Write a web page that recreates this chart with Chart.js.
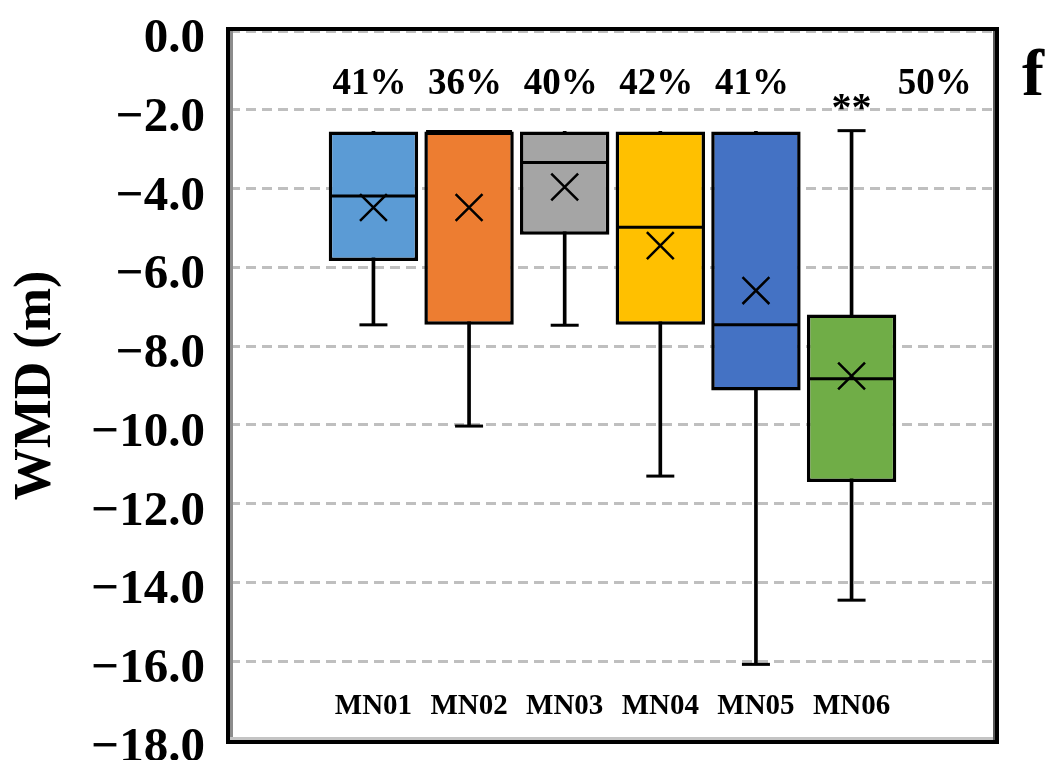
<!DOCTYPE html>
<html>
<head>
<meta charset="utf-8">
<script src="https://cdn.jsdelivr.net/npm/chart.js@4/dist/chart.umd.min.js"></script>
<style>
  html, body { margin: 0; padding: 0; background: #ffffff; }
  #wrap { width: 1048px; height: 760px; }
</style>
</head>
<body>
<div id="wrap"><canvas id="chart" width="1048" height="760"></canvas></div>
<script>
// Box-plot summary of WMD (m) per site
const categories  = ['MN01', 'MN02', 'MN03', 'MN04', 'MN05', 'MN06'];
const whiskerHigh = [-2.55, -2.55, -2.55, -2.55, -2.55, -2.53];
const q3          = [-2.55, -2.55, -2.55, -2.55, -2.55, -7.20];
const median      = [-4.19, -2.55, -3.34, -4.98, -7.46, -8.83];
const q1          = [-5.84, -7.46, -5.17, -7.46, -9.13, -11.45];
const whiskerLow  = [-7.46, -10.03, -7.47, -11.30, -16.08, -14.45];
const mean        = [-4.48, -4.48, -3.96, -5.45, -6.59, -8.76];
const shares      = ['41%', '36%', '40%', '42%', '41%', '50%'];
const signif      = ['', '', '', '', '', '**'];
const boxColors   = ['#5B9BD5', '#ED7D31', '#A5A5A5', '#FFC000', '#4472C4', '#70AD47'];
const yMin = -18, yMax = 0, yStep = 2;
const panelTag = 'f';
const yTitle = 'WMD (m)';

const SERIF = '"Liberation Serif", "Times New Roman", serif';

// one empty slot on each side of the six sites
const pad = arr => [null, ...arr, null];
const slotLabels = ['', ...categories, ''];

const boxData = pad(categories.map((_, i) => [q1[i], q3[i]]));
const whiskerData = pad(categories.map((_, i) => [whiskerLow[i], whiskerHigh[i]]));
// a cap is only drawn where the whisker actually leaves the box
const capSize = (ends, edges) => pad(ends.map((v, i) => (v === edges[i] ? 0 : 14)));

const fmtTick = v => (v < 0 ? '\u2212' : '') + Math.abs(v).toFixed(1);

const decorations = {
  id: 'decorations',
  beforeDraw(chart) {
    const ctx = chart.ctx;
    ctx.save();
    ctx.fillStyle = '#ffffff';
    ctx.fillRect(0, 0, chart.width, chart.height);
    ctx.restore();
  },
  afterDatasetsDraw(chart) {
    const ctx = chart.ctx;
    const x = chart.scales.x;
    const area = chart.chartArea;
    const slot = x.getPixelForValue(2) - x.getPixelForValue(1);
    ctx.save();
    ctx.fillStyle = '#000000';
    ctx.textAlign = 'center';
    ctx.textBaseline = 'alphabetic';
    categories.forEach((name, i) => {
      const cx = x.getPixelForValue(i + 1);
      // site name inside the plot, near the bottom
      ctx.font = 'bold 29px ' + SERIF;
      ctx.fillText(name, cx, area.bottom - 26);
      // share label on top; shifted right when a significance mark takes the slot
      ctx.font = 'bold 37px ' + SERIF;
      if (signif[i]) {
        ctx.fillText(shares[i], cx + slot * 0.87, 94);
        ctx.font = 'bold 40px ' + SERIF;
        ctx.fillText(signif[i], cx, 120);
      } else {
        ctx.fillText(shares[i], cx - 4, 94);
      }
    });
    ctx.restore();
  },
  afterDraw(chart) {
    const ctx = chart.ctx;
    const a = chart.chartArea;
    const y = chart.scales.y;
    ctx.save();
    // inner shading of the frame
    ctx.lineCap = 'butt';
    ctx.strokeStyle = '#8c8c8c';
    ctx.lineWidth = 3;
    ctx.beginPath(); ctx.moveTo(a.left + 1.5, a.top); ctx.lineTo(a.left + 1.5, a.bottom); ctx.stroke();
    ctx.strokeStyle = '#c4c4c4';
    ctx.beginPath(); ctx.moveTo(a.left, a.bottom - 1.5); ctx.lineTo(a.right, a.bottom - 1.5); ctx.stroke();
    ctx.strokeStyle = '#5a5a5a';
    ctx.lineWidth = 2;
    ctx.beginPath(); ctx.moveTo(a.right - 1, a.top); ctx.lineTo(a.right - 1, a.bottom); ctx.stroke();
    // outer black frame
    ctx.strokeStyle = '#000000';
    ctx.lineWidth = 4;
    ctx.strokeRect(a.left - 2, a.top - 2, a.right - a.left + 4, a.bottom - a.top + 4);
    // value axis labels, placed at the axis tick positions
    ctx.fillStyle = '#000000';
    ctx.font = 'bold 49px ' + SERIF;
    ctx.textAlign = 'right';
    ctx.textBaseline = 'alphabetic';
    y.ticks.forEach(t => {
      ctx.fillText(fmtTick(t.value), a.left - 25, y.getPixelForValue(t.value) + 21);
    });
    // axis title
    ctx.font = 'bold 52px ' + SERIF;
    ctx.textAlign = 'center';
    ctx.translate(50, (a.top + a.bottom) / 2);
    ctx.rotate(-Math.PI / 2);
    ctx.fillText(yTitle, 0, 0);
    ctx.restore();
    // panel tag
    ctx.save();
    ctx.fillStyle = '#000000';
    ctx.font = 'bold 66px ' + SERIF;
    ctx.textAlign = 'center';
    ctx.textBaseline = 'alphabetic';
    ctx.fillText(panelTag, a.right + 38, 95);
    ctx.restore();
  }
};

new Chart(document.getElementById('chart'), {
  type: 'bar',
  data: {
    labels: slotLabels,
    datasets: [
      {
        label: 'whisker',
        type: 'bar',
        data: whiskerData,
        backgroundColor: '#000000',
        borderWidth: 0,
        barThickness: 3,
        grouped: false,
        order: 6
      },
      {
        label: 'box',
        type: 'bar',
        data: boxData,
        backgroundColor: pad(boxColors),
        borderColor: '#000000',
        borderWidth: 3.5,
        borderSkipped: false,
        barPercentage: 0.935,
        categoryPercentage: 1,
        grouped: false,
        order: 5
      },
      {
        label: 'lower cap',
        type: 'line',
        data: pad(whiskerLow),
        showLine: false,
        pointStyle: 'line',
        pointRadius: capSize(whiskerLow, q1),
        pointBorderWidth: 3,
        pointBorderColor: '#000000',
        order: 4
      },
      {
        label: 'upper cap',
        type: 'line',
        data: pad(whiskerHigh),
        showLine: false,
        pointStyle: 'line',
        pointRadius: capSize(whiskerHigh, q3),
        pointBorderWidth: 3,
        pointBorderColor: '#000000',
        order: 4
      },
      {
        label: 'median',
        type: 'line',
        data: pad(median),
        showLine: false,
        pointStyle: 'line',
        pointRadius: 43,
        pointBorderWidth: 3,
        pointBorderColor: '#000000',
        order: 3
      },
      {
        label: 'mean',
        type: 'line',
        data: pad(mean),
        showLine: false,
        pointStyle: 'crossRot',
        pointRadius: 19,
        pointBorderWidth: 2.5,
        pointBorderColor: '#000000',
        order: 2
      }
    ]
  },
  options: {
    responsive: false,
    animation: false,
    events: [],
    layout: { autoPadding: false, padding: { left: 0, top: 31, right: 53, bottom: 20 } },
    plugins: {
      legend: { display: false },
      tooltip: { enabled: false }
    },
    scales: {
      x: {
        display: false,
        offset: true,
        grid: { display: false }
      },
      y: {
        min: yMin,
        max: yMax,
        afterFit(scale) { scale.width = 230; },
        ticks: {
          display: false,
          stepSize: yStep
        },
        grid: {
          color: '#bfbfbf',
          lineWidth: 3,
          drawTicks: false
        },
        border: { display: false, dash: [10, 6] }
      }
    }
  },
  plugins: [decorations]
});
</script>
</body>
</html>
